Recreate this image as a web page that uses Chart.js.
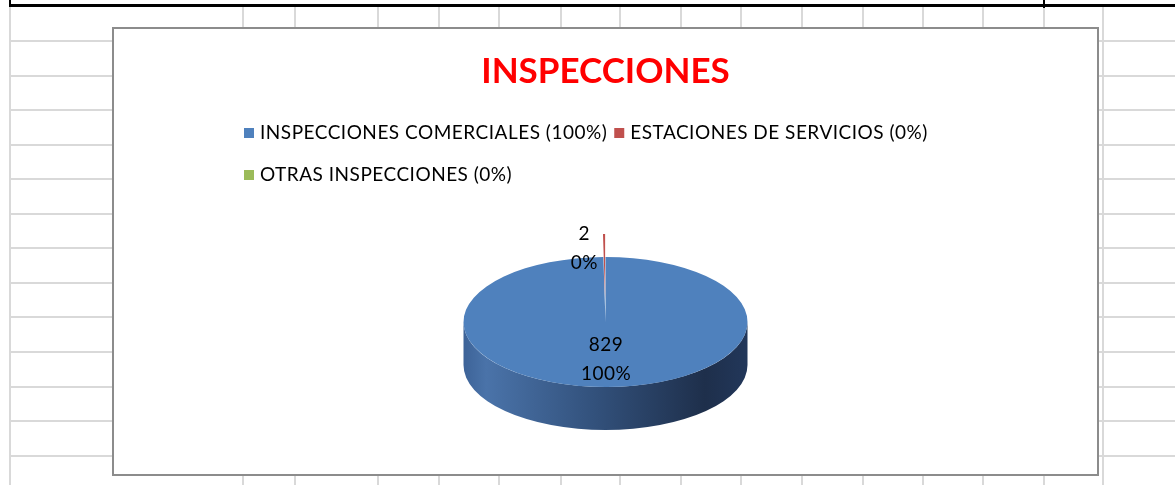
<!DOCTYPE html>
<html>
<head>
<meta charset="utf-8">
<script src="https://cdn.jsdelivr.net/npm/chart.js@4.4.1/dist/chart.umd.min.js"></script>
<style>
  html, body { margin: 0; padding: 0; background: #fff; }
  body { width: 1175px; height: 485px; position: relative; overflow: hidden; }
  .h { position: absolute; left: 10px; right: 0; height: 2px; background: #d9d9d9; }
  .v { position: absolute; top: 7px; bottom: 0; width: 2px; background: #d9d9d9; }
  .blk { position: absolute; background: #000; }
  #box { position: absolute; left: 112px; top: 27px; width: 987px; height: 449px;
         box-sizing: border-box; border: 2px solid #8c8c8c; background: #fff; }
  #box canvas { display: block; }
</style>
</head>
<body>
<div id="sheet"></div>
<div id="box"><canvas id="myChart" width="983" height="445"></canvas></div>
<script>
const categories = ['INSPECCIONES COMERCIALES', 'ESTACIONES DE SERVICIOS', 'OTRAS INSPECCIONES'];
const counts = [829, 2, 0];
const sliceColors = ['#4f81bd', '#c0504d', '#9bbb59'];

// spreadsheet cells behind the chart
const sheet = document.getElementById('sheet');
[41, 76, 110, 145, 179, 214, 248, 283, 317, 352, 387, 421, 456].forEach(y => {
    const d = document.createElement('div');
    d.className = 'h'; d.style.top = (y - 1) + 'px';
    sheet.appendChild(d);
});
[10, 243, 295, 378, 439, 499, 561, 620, 681, 741, 802, 863, 923, 983, 1044, 1103].forEach(x => {
    const d = document.createElement('div');
    d.className = 'v'; d.style.left = (x - 1) + 'px';
    sheet.appendChild(d);
});
[[9, 4, 1166, 3], [9, 0, 2, 7], [1043, 0, 2, 8]].forEach(([l, t, w, h]) => {
    const d = document.createElement('div');
    d.className = 'blk';
    d.style.cssText = `left:${l}px;top:${t}px;width:${w}px;height:${h}px`;
    sheet.appendChild(d);
});

const total = counts.reduce((a, b) => a + b, 0);
const pct = v => Math.round(v / total * 100) + '%';

const TILT = 0.458;
const DEPTH = 43;
// pulled-out distance per slice (chart.js offset eats tiny slices, so shift them ourselves)
const EXPLODE = [0, 50, 0];

// fake 3d: draw the side wall, then squash the pie vertically
const pie3d = {
    id: 'pie3d',
    beforeDatasetsDraw(chart) {
        const ctx = chart.ctx;
        const arcs = chart.getDatasetMeta(0).data;
        const arc = arcs[0];
        const cx = arc.x, cy = arc.y, r = arc.outerRadius, ry = r * TILT;
        ctx.save();
        const g = ctx.createLinearGradient(cx - r, 0, cx + r, 0);
        g.addColorStop(0, '#3d6398');
        g.addColorStop(0.08, '#4a73a9');
        g.addColorStop(0.45, '#33527d');
        g.addColorStop(0.85, '#1e2f4b');
        g.addColorStop(1, '#22375a');
        ctx.beginPath();
        ctx.moveTo(cx - r, cy + DEPTH);
        ctx.ellipse(cx, cy + DEPTH, r, ry, 0, Math.PI, 0, true);
        ctx.lineTo(cx + r, cy);
        ctx.ellipse(cx, cy, r, ry, 0, 0, Math.PI, false);
        ctx.closePath();
        ctx.fillStyle = g;
        ctx.fill();
        ctx.translate(0, cy);
        ctx.scale(1, TILT);
        ctx.translate(0, -cy);
        arcs.forEach((a, i) => {
            const e = EXPLODE[i];
            if (!e) return;
            const mid = (a.startAngle + a.endAngle) / 2;
            a._home = [a.x, a.y];
            a.x += Math.cos(mid) * e;
            a.y += Math.sin(mid) * e;
        });
    },
    afterDatasetsDraw(chart) {
        chart.getDatasetMeta(0).data.forEach(a => {
            if (a._home) { [a.x, a.y] = a._home; delete a._home; }
        });
        chart.ctx.restore();
    }
};

const sliceLabels = {
    id: 'sliceLabels',
    afterDatasetsDraw(chart) {
        const ctx = chart.ctx;
        ctx.save();
        ctx.font = '19px Lato';
        ctx.letterSpacing = '0.5px';
        ctx.fillStyle = '#000';
        ctx.textAlign = 'center';
        ctx.textBaseline = 'middle';
        chart.getDatasetMeta(0).data.forEach((arc, i) => {
            const v = counts[i];
            if (!v) return;
            const mid = (arc.startAngle + arc.endAngle) / 2;
            let dist = arc.outerRadius * 0.55, dx = 0, dy = 2;
            if (v / total < 0.05) {
                dist = arc.outerRadius * 0.8 + EXPLODE[i];
                dx = -20;
                dy = 1;
            }
            const x = arc.x + Math.cos(mid) * dist + dx;
            const y = arc.y + Math.sin(mid) * dist * TILT + dy;
            ctx.fillText(String(v), x, y - 14.5);
            ctx.fillText(pct(v), x, y + 14.5);
        });
        ctx.restore();
    }
};

const sideLegend = {
    id: 'sideLegend',
    afterDraw(chart) {
        const ctx = chart.ctx;
        const x0 = 130, maxX = 860;
        let x = x0, y = 104;
        ctx.save();
        ctx.font = '19px Lato';
        ctx.letterSpacing = '0.5px';
        ctx.textBaseline = 'middle';
        categories.forEach((name, i) => {
            const text = `${name} (${pct(counts[i])})`;
            const w = 16 + ctx.measureText(text).width;
            if (x > x0 && x + w > maxX) { x = x0; y += 42; }
            ctx.fillStyle = sliceColors[i];
            ctx.fillRect(x, y - 5, 10, 10);
            ctx.fillStyle = '#000';
            ctx.fillText(text, x + 16, y);
            x += w + 7;
        });
        ctx.restore();
    }
};

const ctx = document.getElementById('myChart');
new Chart(ctx, {
    type: 'pie',
    data: {
        labels: categories,
        datasets: [{
            data: counts,
            backgroundColor: sliceColors,
            borderWidth: 0,
            radius: 142,
            clip: false
        }]
    },
    options: {
        responsive: false,
        animation: false,
        layout: { padding: 0 },
        plugins: {
            legend: { display: false },
            tooltip: { enabled: false },
            title: {
                display: true,
                text: 'INSPECCIONES',
                color: '#ff0000',
                font: { family: 'Lato', size: 35, weight: 'bold' },
                padding: { top: 22, bottom: 77 }
            }
        }
    },
    plugins: [pie3d, sliceLabels, sideLegend]
});
</script>
</body>
</html>
